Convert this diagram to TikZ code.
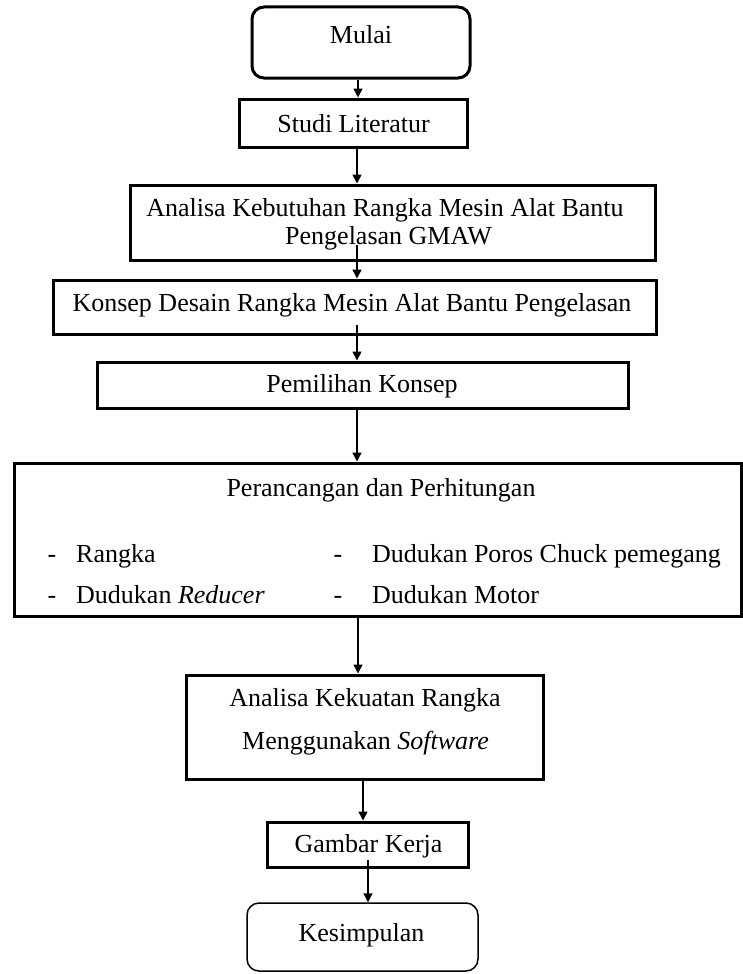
\documentclass[tikz,border=0pt]{standalone}
\usepackage{fontspec}
\setmainfont{Liberation Serif}
\usetikzlibrary{arrows.meta,calc}
\begin{document}
\begin{tikzpicture}[x=1pt,y=-1pt,
  pbox/.style={draw,line width=3pt,inner sep=0pt},
  endbox/.style={draw,line width=1.5pt,inner sep=0pt,rounded corners=12pt},
  txt/.style={inner sep=0pt,align=center,font=\fontsize{26}{28}\selectfont},
  arr/.style={-{Triangle[length=9pt,width=9pt]},line width=1.5pt}]
\useasboundingbox (0,0) rectangle (743,974);
% boxes
\node[pbox,rounded corners=12pt,minimum width=218,minimum height=71] (mulai) at (361,42.5) {};
\node[pbox,minimum width=228,minimum height=48] (studi) at (353,123) {};
\node[pbox,minimum width=525,minimum height=75] (analisa) at (392.5,222.5) {};
\node[pbox,minimum width=603,minimum height=54] (konsep) at (354.5,307) {};
\node[pbox,minimum width=531,minimum height=46] (pemilihan) at (362.5,385) {};
\node[pbox,minimum width=727,minimum height=153] (perancangan) at (377.5,539.5) {};
\node[pbox,minimum width=357,minimum height=104] (kekuatan) at (364.5,727) {};
\node[pbox,minimum width=201,minimum height=45] (gambar) at (367.5,844.5) {};
\node[endbox,minimum width=231,minimum height=68] (kesimpulan) at (362.5,937) {};
% texts
\node[txt] (tmulai) at (361,35) {Mulai};
\node[txt] (tstudi) at (353.5,124) {Studi Literatur};
\node[txt] (tanalisa1) at (385,210) {Analisa Kebutuhan Rangka Mesin Alat Bantu};
\node[txt] (tanalisa2) at (388.5,238) {Pengelasan GMAW};
\node[txt] (tkonsep) at (352,305) {Konsep Desain Rangka Mesin Alat Bantu Pengelasan};
\node[txt] (tpemilihan) at (362,386) {Pemilihan Konsep};
\node[txt] (tperancangan) at (381,490) {Perancangan dan Perhitungan};
\node[txt,anchor=base] (b1) at (52,562) {-};
\node[txt,anchor=base west] (i1) at (76,562) {Rangka};
\node[txt,anchor=base] (b2) at (52,603) {-};
\node[txt,anchor=base west] (i2) at (76,603) {Dudukan \textit{Reducer}};
\node[txt,anchor=base] (b3) at (338,562) {-};
\node[txt,anchor=base west] (i3) at (372,562) {Dudukan Poros Chuck pemegang};
\node[txt,anchor=base] (b4) at (338,603) {-};
\node[txt,anchor=base west] (i4) at (372,603) {Dudukan Motor};
\node[txt] (tkekuatan1) at (365,700) {Analisa Kekuatan Rangka};
\node[txt] (tkekuatan2) at (365.5,743) {Menggunakan \textit{Software}};
\node[txt] (tgambar) at (368.5,846) {Gambar Kerja};
\node[txt] (tkesimpulan) at (361.5,935) {Kesimpulan};
% connector lines
\coordinate (x1) at (358,0);
\coordinate (x2) at (357,0);
\coordinate (x7) at (363,0);
\coordinate (x8) at (368,0);
\coordinate (s3) at (357,245);
\coordinate (s4) at (357,325);
\coordinate (s8) at (368,860);
\draw[arr] (mulai.south -| x1) -- (studi.north -| x1);
\draw[arr] (studi.south -| x2) -- (analisa.north -| x2);
\draw[arr] (s3) -- (konsep.north -| s3);
\draw[arr] (s4) -- (pemilihan.north -| s4);
\draw[arr] (pemilihan.south -| x2) -- (perancangan.north -| x2);
\draw[arr] (perancangan.south -| x1) -- (kekuatan.north -| x1);
\draw[arr] (kekuatan.south -| x7) -- (gambar.north -| x7);
\draw[arr] (s8) -- (kesimpulan.north -| s8);
\end{tikzpicture}
\end{document}
